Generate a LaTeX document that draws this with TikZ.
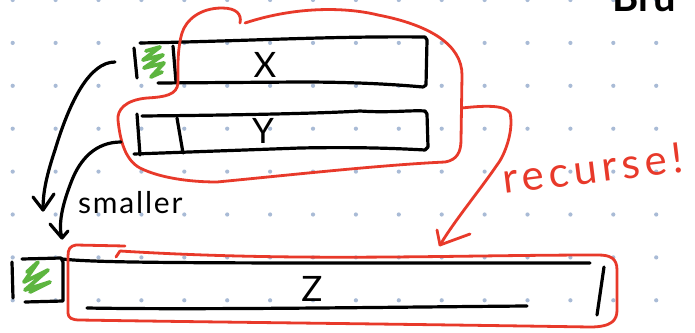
\documentclass[tikz,border=0pt]{standalone}
\usepackage{fontspec}
\setmainfont{Lato}
\definecolor{redc}{HTML}{E8392A}
\definecolor{greenc}{HTML}{5DB53F}
\definecolor{dotc}{HTML}{A9BBD6}
\begin{document}
\begin{tikzpicture}[x=1pt,y=-1pt,line cap=round,line join=round,
  ink/.style={line width=3.2pt,black},
  redink/.style={line width=2.8pt,redc},
  greenink/.style={line width=3.8pt,greenc},
  lbl/.style={inner sep=0pt,font=\fontsize{35}{35}\selectfont},
  hand/.style={inner sep=0pt}]
\useasboundingbox (0,0) rectangle (695,332);
\clip (0,0) rectangle (695,332);
\fill[white] (0,0) rectangle (695,332);
% dot grid
\foreach \i in {0,...,15}{
  \foreach \j in {0,...,7}{
    \fill[dotc] ({12.7+42.9*\i},{42.9*\j}) circle (2.1pt);
  }
}
% partial text top right (cut by the upper edge)
\node[hand,anchor=base west,font=\fontsize{40}{40}\selectfont\bfseries] (bru) at (612,12) {Bru};

% ---------- X box ----------
\draw[ink] (140,43) .. controls (250,41) and (330,36) .. (425,37) -- (427,40) -- (426,85) -- (423,87)
   .. controls (390,84) and (350,82) .. (300,82) -- (158,83);
\draw[ink] (134,48) -- (137,78);
\draw[ink] (173,46) -- (176,82);
\draw[greenink] (146,51) -- (160,47) -- (143,60) -- (163,55) -- (144,68) -- (164,63) -- (151,77) -- (162,72);
\node[lbl] (X) at (265,65) {X};

% ---------- Y box ----------
\draw[ink] (142,116) .. controls (250,115) and (330,113) .. (360,111) .. controls (390,113) and (410,110) .. (425,111)
   -- (427,114) -- (428,147) -- (425,150) .. controls (390,148) and (350,147) .. (300,148) -- (134,154);
\draw[ink] (137,114) -- (140,155);
\draw[ink] (177,118) -- (183,153);
\node[lbl] (Y) at (263,131) {Y};

% ---------- Z assembly ----------
\draw[ink] (12,262) -- (13,298);
\draw[ink] (22,259) -- (61,258) -- (63,262) -- (63,301) -- (25,302);
\draw[greenink] (27,272) -- (38,262) -- (24,282) -- (48,270) -- (25,290) -- (50,282) -- (30,292);
\draw[ink] (62,259) .. controls (90,262) and (150,263) .. (345,263) -- (590,263);
\draw[ink] (87,308) .. controls (200,310) and (400,307) .. (527,306);
\draw[ink] (604,267) -- (597,315);
\node[lbl] (Z) at (312,289) {Z};

% ---------- red outline around X and Y ----------
\draw[redink] (240,23) .. controls (242,14) and (236,8) .. (222,8)
  .. controls (200,8) and (186,20) .. (182,33)
  .. controls (177,50) and (178,70) .. (178,83)
  .. controls (177,95) and (165,97) .. (147,98)
  .. controls (125,100) and (117,110) .. (118,120)
  .. controls (120,140) and (125,160) .. (140,168)
  .. controls (160,178) and (190,182) .. (217,182)
  .. controls (280,176) and (380,165) .. (445,162)
  .. controls (457,160) and (461,152) .. (461,140)
  -- (462,75)
  .. controls (462,45) and (430,25) .. (378,15)
  .. controls (350,8) and (300,5) .. (245,23);
% recurse arrow
\coordinate (rs) at (462,108);
\coordinate (rt) at (440,245);
\draw[redink] (rs) .. controls (480,106) and (505,104) .. (510,113)
  .. controls (514,130) and (505,155) .. (497,165)
  .. controls (480,190) and (455,220) .. (rt);
\draw[redink] (rt) -- (470,234);
\draw[redink] (rt) -- (437,230);
\node[hand,text=redc,font=\fontsize{42}{42}\selectfont\addfontfeatures{LetterSpace=12},rotate=7,anchor=base west] (rec) at (504,194) {recurse!};

% ---------- red outline around Z ----------
\draw[redink] (125,246) -- (76,245) .. controls (70,246) and (68,249) .. (68,256)
  -- (68,313) .. controls (68,318) and (72,320) .. (80,320)
  .. controls (200,322) and (400,324) .. (590,327)
  .. controls (612,327) and (617,320) .. (617,310)
  -- (617,270) .. controls (617,258) and (610,255) .. (598,255)
  .. controls (450,255) and (300,262) .. (120,251) -- (116,257);

% ---------- black arrows ----------
\coordinate (a1s) at (115,62);
\coordinate (a1t) at (43,210);
\draw[ink] (a1s) .. controls (90,62) and (70,100) .. (55,150) .. controls (45,180) and (43,195) .. (a1t);
\draw[ink] (a1t) -- (33,197);
\draw[ink] (a1t) -- (54,194);
\coordinate (a2s) at (121,142);
\coordinate (a2t) at (62,238);
\draw[ink] (a2s) .. controls (95,142) and (80,160) .. (72,180) .. controls (62,205) and (58,225) .. (a2t);
\draw[ink] (a2t) -- (50,224);
\draw[ink] (a2t) -- (68,231);
\node[hand,font=\fontsize{30}{30}\selectfont\addfontfeatures{LetterSpace=6},anchor=base west] (sm) at (78,213) {smaller};
\end{tikzpicture}
\end{document}
